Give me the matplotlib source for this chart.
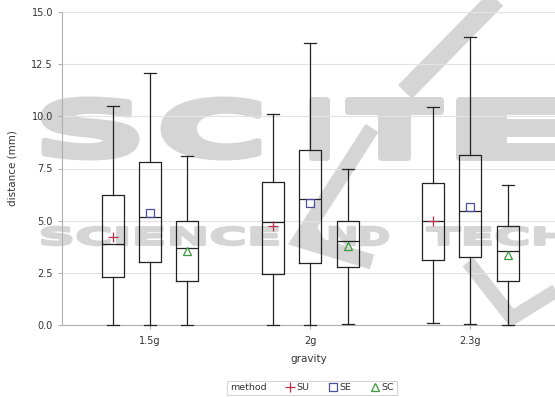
import matplotlib
matplotlib.use("Agg")
import matplotlib.pyplot as plt
from matplotlib.lines import Line2D
from matplotlib.patches import PathPatch
from matplotlib.textpath import TextPath
from matplotlib.font_manager import FontProperties
from matplotlib.transforms import Affine2D

W, H = 555, 397

gravity = ["1.5g", "2g", "2.3g"]
methods = ["SU", "SE", "SC"]

# box statistics per method, one value per gravity level
su_low = [0.0, 0.0, 0.08]
su_q1 = [2.28, 2.46, 3.11]
su_med = [3.88, 4.92, 4.98]
su_q3 = [6.24, 6.85, 6.80]
su_high = [10.49, 10.10, 10.46]
su_mean = [4.23, 4.76, 5.00]

se_low = [0.0, 0.0, 0.05]
se_q1 = [3.02, 2.99, 3.27]
se_med = [5.16, 6.04, 5.48]
se_q3 = [7.83, 8.40, 8.15]
se_high = [12.10, 13.53, 13.81]
se_mean = [5.35, 5.83, 5.67]

sc_low = [0.0, 0.05, 0.0]
sc_q1 = [2.12, 2.76, 2.12]
sc_med = [3.67, 4.01, 3.53]
sc_q3 = [5.00, 5.00, 4.74]
sc_high = [8.11, 7.46, 6.72]
sc_mean = [3.56, 3.79, 3.34]

yticks = [0.0, 2.5, 5.0, 7.5, 10.0, 12.5, 15.0]

series = {
    "SU": (su_low, su_q1, su_med, su_q3, su_high, su_mean),
    "SE": (se_low, se_q1, se_med, se_q3, se_high, se_mean),
    "SC": (sc_low, sc_q1, sc_med, sc_q3, sc_high, sc_mean),
}
offsets = {"SU": -0.234, "SE": 0.0, "SC": 0.234}
markers = {"SU": "+", "SE": "s", "SC": "^"}
msizes = {"SU": 7, "SE": 5.5, "SC": 6}
colors = {"SU": "#b8334a", "SE": "#4b4e9c", "SC": "#3c9a3c"}

plt.rcParams["font.family"] = "DejaVu Sans"

fig = plt.figure(figsize=(W / 100, H / 100), dpi=100)
fig.patch.set_facecolor("white")


def fx(px):
    return px / W


def fy(py):
    return 1 - py / H


# watermark lettering, each word stretched into its own box
wm_color = "#d5d5d5"
bold = FontProperties(family="DejaVu Sans", weight="bold")


def stretched(text, x0, y0, x1, y1, stroke):
    path = TextPath((0, 0), text, size=10, prop=bold)
    ext = path.get_extents()
    tr = (Affine2D().translate(-ext.x0, -ext.y0)
          .scale((x1 - x0) / ext.width / W, (y1 - y0) / ext.height / H)
          .translate(fx(x0), fy(y1)))
    patch = PathPatch(tr.transform_path(path), facecolor=wm_color,
                      edgecolor=wm_color, lw=stroke, joinstyle="round",
                      transform=fig.transFigure, zorder=-5)
    fig.patches.append(patch)


for letter, (a, b) in zip("SCITE", [(44, 136), (164, 258), (312, 326), (348, 440), (459, 580)]):
    stretched(letter, a, 100, b, 157, 5)
stretched("SCIENCE", 42, 227, 278, 245, 1.8)
stretched("AND", 297, 227, 388, 245, 1.8)
stretched("TECHNOLOGY", 427, 227, 803, 245, 1.8)

for pts, lw in [([(505, -10), (405, 92)], 14),
                ([(372, 128), (300, 240), (372, 262)], 11),
                ([(468, 262), (512, 318), (570, 282)], 10)]:
    xs = [fx(p[0]) for p in pts]
    ys = [fy(p[1]) for p in pts]
    fig.add_artist(Line2D(xs, ys, color=wm_color, lw=lw, zorder=-5,
                          solid_joinstyle="miter", solid_capstyle="butt"))

ax = fig.add_axes([fx(62), fy(325), fx(555) - fx(62), fy(12) - fy(325)])
ax.patch.set_alpha(0)

for m in methods:
    low, q1, med, q3, high, mean = series[m]
    stats = [dict(whislo=low[i], q1=q1[i], med=med[i], q3=q3[i], whishi=high[i],
                  mean=mean[i], fliers=[]) for i in range(len(gravity))]
    pos = [i + offsets[m] for i in range(len(gravity))]
    line = dict(color="#222222", lw=0.9)
    art = ax.bxp(stats, positions=pos, widths=0.1375, capwidths=0.075,
                 showmeans=True, showfliers=False, manage_ticks=False,
                 boxprops=line, whiskerprops=line, capprops=line, medianprops=line,
                 meanprops=dict(marker=markers[m], markeredgecolor=colors[m],
                                markerfacecolor="none", markersize=msizes[m],
                                markeredgewidth=0.9))
    for key in ("whiskers", "caps"):
        for a in art[key]:
            a.set_clip_on(False)
            a.set_zorder(3)

ax.set_xlim(-0.55, 2.53)
ax.set_ylim(0, 15)
ax.set_yticks(yticks)
ax.set_yticklabels([f"{v:.1f}" for v in yticks])
ax.set_xticks(range(len(gravity)))
ax.set_xticklabels(gravity)
ax.yaxis.grid(True, color="#e3e3e3", lw=0.8)
ax.set_axisbelow(True)
for s in ("top", "right"):
    ax.spines[s].set_visible(False)
for s in ("left", "bottom"):
    ax.spines[s].set_color("#b0b0b0")
    ax.spines[s].set_linewidth(0.8)
ax.tick_params(axis="both", colors="#b0b0b0", labelcolor="#333333",
               labelsize=7, length=3, width=0.8)
ax.tick_params(axis="x", pad=5)
ax.set_xlabel("gravity", fontsize=7.5, color="#333333", labelpad=6)
ax.set_ylabel("distance (mm)", fontsize=7.5, color="#333333", labelpad=10)

handles = [Line2D([], [], ls="none", marker=markers[m], markeredgecolor=colors[m],
                  markerfacecolor="none", markersize=msizes[m], markeredgewidth=0.9)
           for m in methods]
leg = fig.legend(handles, methods, title="method", ncol=3, loc="center",
                 bbox_to_anchor=(fx(312), fy(388)), fontsize=6.8, title_fontsize=6.8,
                 frameon=True, fancybox=False, edgecolor="#cccccc",
                 handlelength=0.8, handletextpad=0.3, columnspacing=1.0,
                 borderpad=0.3, borderaxespad=0)
leg.get_frame().set_linewidth(0.8)
for t in leg.get_texts():
    t.set_color("#333333")
leg.get_title().set_color("#333333")
# put the title on the same row as the entries
outer = leg.get_children()[0]
title_box, entries = outer.get_children()
outer._children = [entries]
entries._children = [title_box] + entries.get_children()
entries.sep = 14

fig.savefig("out.png", dpi=100)
